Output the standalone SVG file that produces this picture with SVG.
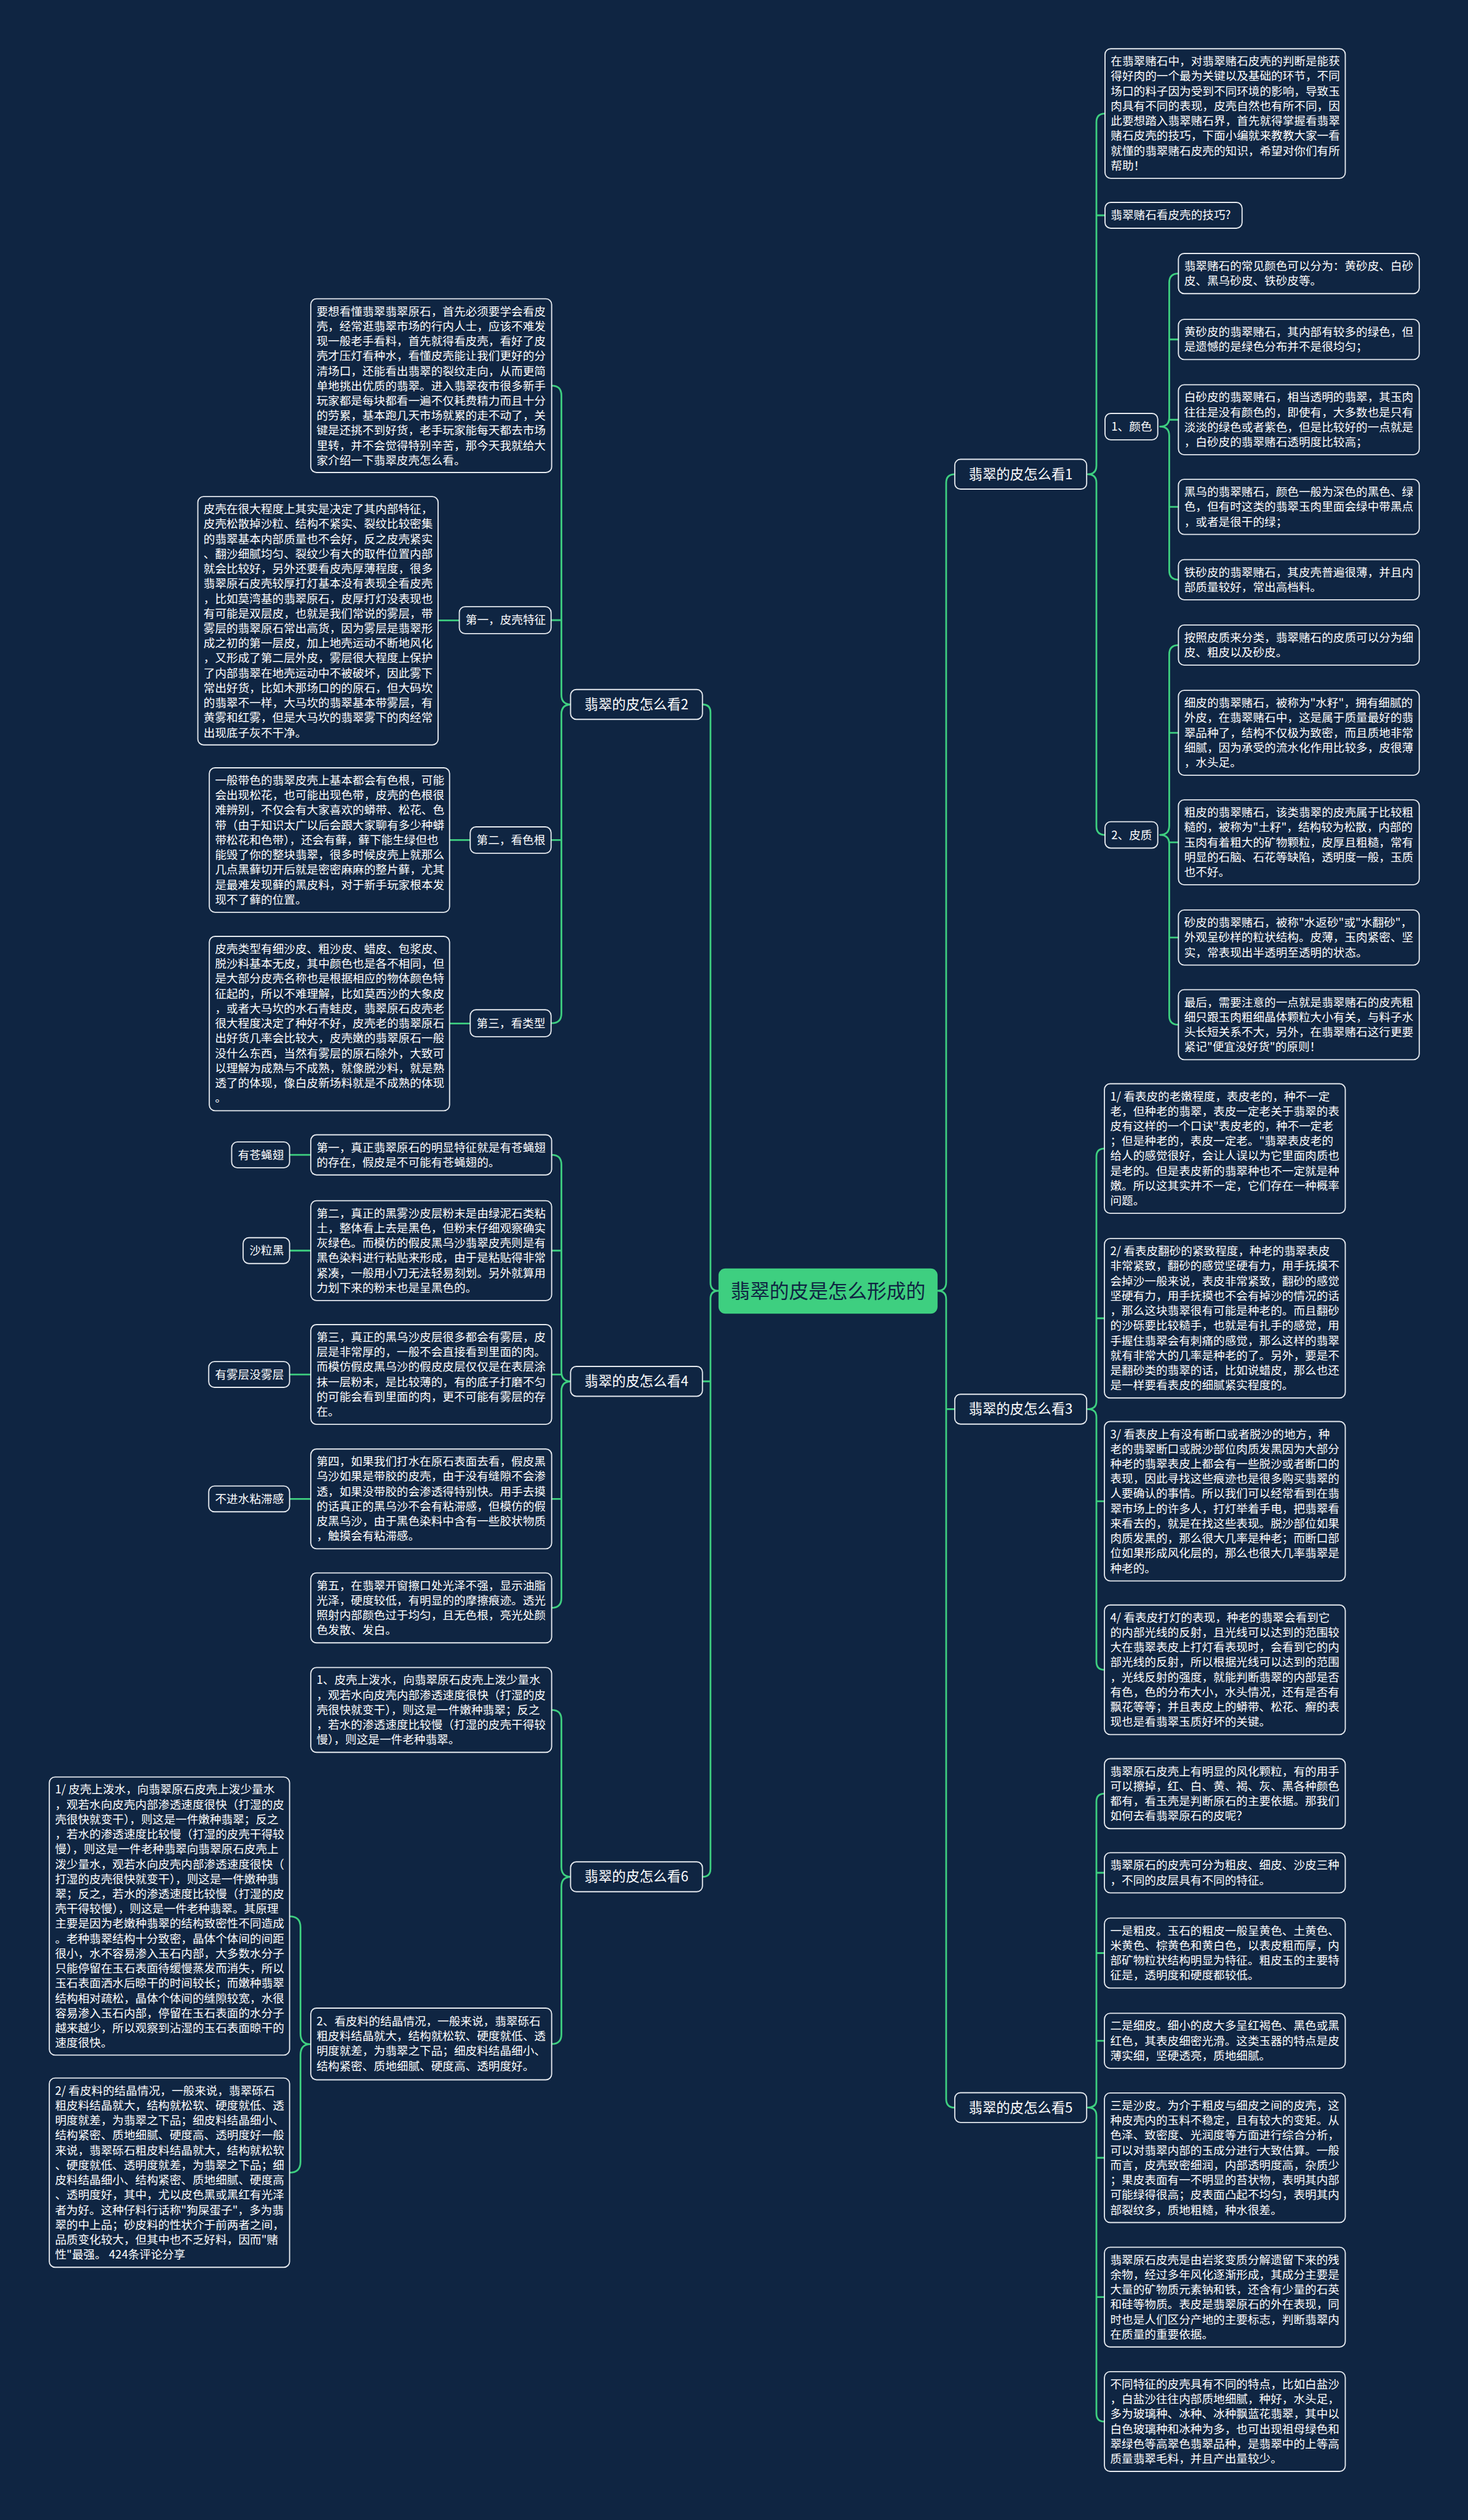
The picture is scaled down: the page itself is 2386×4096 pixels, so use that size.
<svg xmlns="http://www.w3.org/2000/svg" width="2386" height="4096" viewBox="0 0 2386 4096">
<style>
.bx{fill:#0f2542;stroke:#e6eaef;stroke-width:2}
.t{font-family:"Noto Sans CJK SC","Liberation Sans",sans-serif;font-size:20px;fill:#ffffff}
.l1{font-family:"Noto Sans CJK SC","Liberation Sans",sans-serif;font-size:24px;fill:#ffffff}
.ct{font-family:"Noto Sans CJK SC","Liberation Sans",sans-serif;font-size:34px;fill:#0f2542}
.c{fill:none;stroke:#3ecf80;stroke-width:3;stroke-linecap:round;stroke-linejoin:round}
</style>
<rect x="0" y="0" width="2386" height="4096" fill="#0f2542"/>
<g transform="scale(0.93203)">
<g id="connectors">
<path class="c" d="M1665,827 Q1650,827 1650,842 L1650,2236 Q1650,2251 1635,2251 Q1650,2251 1650,2266 L1650,3660.5 Q1650,3675.5 1665,3675.5 M1650,2457.5 L1665,2457.5"/>
<path class="c" d="M1225,1228.5 Q1239,1228.5 1239,1242.5 L1239,2237 Q1239,2251 1253,2251 Q1239,2251 1239,2265 L1239,3259 Q1239,3273 1225,3273 M1239,2409 L1225,2409"/>
<path class="c" d="M1927,198 Q1912,198 1912,213 L1912,812 Q1912,827 1897,827 Q1912,827 1912,842 L1912,1441 Q1912,1456 1927,1456 M1912,375.5 L1927,375.5"/>
<path class="c" d="M2055,477 Q2039,477 2039,493 L2039,728 Q2039,744 2023,744 Q2039,744 2039,760 L2039,995 Q2039,1011 2055,1011 M2039,592 L2055,592 M2039,732 L2055,732 M2039,884 L2055,884"/>
<path class="c" d="M2055,1125 Q2039,1125 2039,1141 L2039,1440 Q2039,1456 2023,1456 Q2039,1456 2039,1472 L2039,1771 Q2039,1787 2055,1787 M2039,1278 L2055,1278 M2039,1469 L2055,1469 M2039,1635 L2055,1635"/>
<path class="c" d="M1926,2003 Q1912,2003 1912,2017 L1912,2443.5 Q1912,2457.5 1897,2457.5 Q1912,2457.5 1912,2471.5 L1912,2898 Q1912,2912 1926,2912 M1912,2299 L1926,2299 M1912,2618 L1926,2618"/>
<path class="c" d="M1926,3128 Q1912,3128 1912,3142 L1912,3661.5 Q1912,3675.5 1897,3675.5 Q1912,3675.5 1912,3689.5 L1912,4209 Q1912,4223 1926,4223 M1912,3266 L1926,3266 M1912,3406 L1926,3406 M1912,3559 L1926,3559 M1912,3763 L1926,3763 M1912,4006 L1926,4006"/>
<path class="c" d="M962,672.5 Q979,672.5 979,689.5 L979,1211.5 Q979,1228.5 996,1228.5 Q979,1228.5 979,1245.5 L979,1767.5 Q979,1784.5 962,1784.5 M979,1081.5 L962,1081.5 M979,1465 L962,1465"/>
<path class="c" d="M764,1082 L801,1082 M784,1465 L820,1465 M784,1785 L820,1785"/>
<path class="c" d="M962,2014 Q979,2014 979,2031 L979,2392 Q979,2409 996,2409 Q979,2409 979,2426 L979,2787 Q979,2804 962,2804 M979,2181 L962,2181 M979,2397 L962,2397 M979,2614 L962,2614"/>
<path class="c" d="M505,2014 L542,2014 M505,2181 L542,2181 M505,2397 L542,2397 M505,2614 L542,2614"/>
<path class="c" d="M962,2982 Q979,2982 979,2999 L979,3256 Q979,3273 996,3273 Q979,3273 979,3290 L979,3547.5 Q979,3564.5 962,3564.5"/>
<path class="c" d="M505,3342 Q524,3342 524,3361 L524,3546 Q524,3565 541,3565 Q524,3565 524,3584 L524,3770 Q524,3789 505,3789"/>
</g>

<g id="center">
<rect x="1253" y="2212" width="382" height="79" rx="12" fill="#3ecf80"/>
<text class="ct" x="1444" y="2263.5" text-anchor="middle">翡翠的皮是怎么形成的</text>
</g>

<g id="k1"><rect class="bx" x="1665" y="801" width="230" height="52" rx="10"/><text class="l1" x="1780" y="835.5" text-anchor="middle">翡翠的皮怎么看1</text></g>
<g id="k3"><rect class="bx" x="1665" y="2431.5" width="230" height="52" rx="10"/><text class="l1" x="1780" y="2466" text-anchor="middle">翡翠的皮怎么看3</text></g>
<g id="k5"><rect class="bx" x="1665" y="3649.5" width="230" height="52" rx="10"/><text class="l1" x="1780" y="3684" text-anchor="middle">翡翠的皮怎么看5</text></g>
<g id="k2"><rect class="bx" x="995" y="1202.5" width="230" height="52" rx="10"/><text class="l1" x="1110" y="1237" text-anchor="middle">翡翠的皮怎么看2</text></g>
<g id="k4"><rect class="bx" x="995" y="2383" width="230" height="52" rx="10"/><text class="l1" x="1110" y="2417.5" text-anchor="middle">翡翠的皮怎么看4</text></g>
<g id="k6"><rect class="bx" x="995" y="3247" width="230" height="52" rx="10"/><text class="l1" x="1110" y="3281.5" text-anchor="middle">翡翠的皮怎么看6</text></g>

<g id="r-intro"><rect class="bx" x="1927" y="85" width="419" height="226" rx="10"/>
<text class="t"><tspan x="1937" y="114">在翡翠赌石中，对翡翠赌石皮壳的判断是能获</tspan><tspan x="1937" y="140">得好肉的一个最为关键以及基础的环节，不同</tspan><tspan x="1937" y="166">场口的料子因为受到不同环境的影响，导致玉</tspan><tspan x="1937" y="192">肉具有不同的表现，皮壳自然也有所不同，因</tspan><tspan x="1937" y="218">此要想踏入翡翠赌石界，首先就得掌握看翡翠</tspan><tspan x="1937" y="244">赌石皮壳的技巧，下面小编就来教教大家一看</tspan><tspan x="1937" y="270">就懂的翡翠赌石皮壳的知识，希望对你们有所</tspan><tspan x="1937" y="296">帮助！</tspan></text></g>
<g id="r-question"><rect class="bx" x="1927" y="353" width="239" height="45" rx="10"/><text class="t" x="1937" y="382.5">翡翠赌石看皮壳的技巧?</text></g>

<g id="r-color"><rect class="bx" x="1927" y="721" width="92" height="46" rx="10"/><text class="t" x="1938" y="751">1、颜色</text></g>
<g id="r-color-1"><rect class="bx" x="2055" y="442" width="420" height="70" rx="10"/>
<text class="t"><tspan x="2065" y="471">翡翠赌石的常见颜色可以分为：黄砂皮、白砂</tspan><tspan x="2065" y="497">皮、黑乌砂皮、铁砂皮等。</tspan></text></g>
<g id="r-color-2"><rect class="bx" x="2055" y="557" width="420" height="70" rx="10"/>
<text class="t"><tspan x="2065" y="586">黄砂皮的翡翠赌石，其内部有较多的绿色，但</tspan><tspan x="2065" y="612">是遗憾的是绿色分布并不是很均匀；</tspan></text></g>
<g id="r-color-3"><rect class="bx" x="2055" y="671" width="420" height="122" rx="10"/>
<text class="t"><tspan x="2065" y="700">白砂皮的翡翠赌石，相当透明的翡翠，其玉肉</tspan><tspan x="2065" y="726">往往是没有颜色的，即使有，大多数也是只有</tspan><tspan x="2065" y="752">淡淡的绿色或者紫色，但是比较好的一点就是</tspan><tspan x="2065" y="778">，白砂皮的翡翠赌石透明度比较高；</tspan></text></g>
<g id="r-color-4"><rect class="bx" x="2055" y="836" width="420" height="96" rx="10"/>
<text class="t"><tspan x="2065" y="865">黑乌的翡翠赌石，颜色一般为深色的黑色、绿</tspan><tspan x="2065" y="891">色，但有时这类的翡翠玉肉里面会绿中带黑点</tspan><tspan x="2065" y="917">，或者是很干的绿；</tspan></text></g>
<g id="r-color-5"><rect class="bx" x="2055" y="976" width="420" height="70" rx="10"/>
<text class="t"><tspan x="2065" y="1005">铁砂皮的翡翠赌石，其皮壳普遍很薄，并且内</tspan><tspan x="2065" y="1031">部质量较好，常出高档料。</tspan></text></g>

<g id="r-skin"><rect class="bx" x="1927" y="1433" width="92" height="46" rx="10"/><text class="t" x="1938" y="1463">2、皮质</text></g>
<g id="r-skin-1"><rect class="bx" x="2055" y="1090" width="420" height="70" rx="10"/>
<text class="t"><tspan x="2065" y="1119">按照皮质来分类，翡翠赌石的皮质可以分为细</tspan><tspan x="2065" y="1145">皮、粗皮以及砂皮。</tspan></text></g>
<g id="r-skin-2"><rect class="bx" x="2055" y="1204" width="420" height="148" rx="10"/>
<text class="t"><tspan x="2065" y="1233">细皮的翡翠赌石，被称为"水籽"，拥有细腻的</tspan><tspan x="2065" y="1259">外皮，在翡翠赌石中，这是属于质量最好的翡</tspan><tspan x="2065" y="1285">翠品种了，结构不仅极为致密，而且质地非常</tspan><tspan x="2065" y="1311">细腻，因为承受的流水化作用比较多，皮很薄</tspan><tspan x="2065" y="1337">，水头足。</tspan></text></g>
<g id="r-skin-3"><rect class="bx" x="2055" y="1395" width="420" height="148" rx="10"/>
<text class="t"><tspan x="2065" y="1424">粗皮的翡翠赌石，该类翡翠的皮壳属于比较粗</tspan><tspan x="2065" y="1450">糙的，被称为"土籽"，结构较为松散，内部的</tspan><tspan x="2065" y="1476">玉肉有着粗大的矿物颗粒，皮厚且粗糙，常有</tspan><tspan x="2065" y="1502">明显的石脑、石花等缺陷，透明度一般，玉质</tspan><tspan x="2065" y="1528">也不好。</tspan></text></g>
<g id="r-skin-4"><rect class="bx" x="2055" y="1587" width="420" height="96" rx="10"/>
<text class="t"><tspan x="2065" y="1616">砂皮的翡翠赌石，被称"水返砂"或"水翻砂"，</tspan><tspan x="2065" y="1642">外观呈砂样的粒状结构。皮薄，玉肉紧密、坚</tspan><tspan x="2065" y="1668">实，常表现出半透明至透明的状态。</tspan></text></g>
<g id="r-skin-5"><rect class="bx" x="2055" y="1726" width="420" height="122" rx="10"/>
<text class="t"><tspan x="2065" y="1755">最后，需要注意的一点就是翡翠赌石的皮壳粗</tspan><tspan x="2065" y="1781">细只跟玉肉粗细晶体颗粒大小有关，与料子水</tspan><tspan x="2065" y="1807">头长短关系不大，另外，在翡翠赌石这行更要</tspan><tspan x="2065" y="1833">紧记"便宜没好货"的原则！</tspan></text></g>

<g id="r3-1"><rect class="bx" x="1926" y="1890" width="420" height="226" rx="10"/>
<text class="t"><tspan x="1936" y="1919">1/ 看表皮的老嫩程度，表皮老的，种不一定</tspan><tspan x="1936" y="1945">老，但种老的翡翠，表皮一定老关于翡翠的表</tspan><tspan x="1936" y="1971">皮有这样的一个口诀"表皮老的，种不一定老</tspan><tspan x="1936" y="1997">；但是种老的，表皮一定老。"翡翠表皮老的</tspan><tspan x="1936" y="2023">给人的感觉很好，会让人误以为它里面肉质也</tspan><tspan x="1936" y="2049">是老的。但是表皮新的翡翠种也不一定就是种</tspan><tspan x="1936" y="2075">嫩。所以这其实并不一定，它们存在一种概率</tspan><tspan x="1936" y="2101">问题。</tspan></text></g>
<g id="r3-2"><rect class="bx" x="1926" y="2160" width="420" height="278" rx="10"/>
<text class="t"><tspan x="1936" y="2189">2/ 看表皮翻砂的紧致程度，种老的翡翠表皮</tspan><tspan x="1936" y="2215">非常紧致，翻砂的感觉坚硬有力，用手抚摸不</tspan><tspan x="1936" y="2241">会掉沙一般来说，表皮非常紧致，翻砂的感觉</tspan><tspan x="1936" y="2267">坚硬有力，用手抚摸也不会有掉沙的情况的话</tspan><tspan x="1936" y="2293">，那么这块翡翠很有可能是种老的。而且翻砂</tspan><tspan x="1936" y="2319">的沙砾要比较糙手，也就是有扎手的感觉，用</tspan><tspan x="1936" y="2345">手握住翡翠会有刺痛的感觉，那么这样的翡翠</tspan><tspan x="1936" y="2371">就有非常大的几率是种老的了。另外，要是不</tspan><tspan x="1936" y="2397">是翻砂类的翡翠的话，比如说蜡皮，那么也还</tspan><tspan x="1936" y="2423">是一样要看表皮的细腻紧实程度的。</tspan></text></g>
<g id="r3-3"><rect class="bx" x="1926" y="2479" width="420" height="278" rx="10"/>
<text class="t"><tspan x="1936" y="2508">3/ 看表皮上有没有断口或者脱沙的地方，种</tspan><tspan x="1936" y="2534">老的翡翠断口或脱沙部位肉质发黑因为大部分</tspan><tspan x="1936" y="2560">种老的翡翠表皮上都会有一些脱沙或者断口的</tspan><tspan x="1936" y="2586">表现，因此寻找这些痕迹也是很多购买翡翠的</tspan><tspan x="1936" y="2612">人要确认的事情。所以我们可以经常看到在翡</tspan><tspan x="1936" y="2638">翠市场上的许多人，打灯举着手电，把翡翠看</tspan><tspan x="1936" y="2664">来看去的，就是在找这些表现。脱沙部位如果</tspan><tspan x="1936" y="2690">肉质发黑的，那么很大几率是种老；而断口部</tspan><tspan x="1936" y="2716">位如果形成风化层的，那么也很大几率翡翠是</tspan><tspan x="1936" y="2742">种老的。</tspan></text></g>
<g id="r3-4"><rect class="bx" x="1926" y="2799" width="420" height="226" rx="10"/>
<text class="t"><tspan x="1936" y="2828">4/ 看表皮打灯的表现，种老的翡翠会看到它</tspan><tspan x="1936" y="2854">的内部光线的反射，且光线可以达到的范围较</tspan><tspan x="1936" y="2880">大在翡翠表皮上打灯看表现时，会看到它的内</tspan><tspan x="1936" y="2906">部光线的反射，所以根据光线可以达到的范围</tspan><tspan x="1936" y="2932">，光线反射的强度，就能判断翡翠的内部是否</tspan><tspan x="1936" y="2958">有色，色的分布大小，水头情况，还有是否有</tspan><tspan x="1936" y="2984">飘花等等；并且表皮上的蟒带、松花、癣的表</tspan><tspan x="1936" y="3010">现也是看翡翠玉质好坏的关键。</tspan></text></g>

<g id="r5-1"><rect class="bx" x="1926" y="3067" width="420" height="122" rx="10"/>
<text class="t"><tspan x="1936" y="3096">翡翠原石皮壳上有明显的风化颗粒，有的用手</tspan><tspan x="1936" y="3122">可以擦掉，红、白、黄、褐、灰、黑各种颜色</tspan><tspan x="1936" y="3148">都有，看玉壳是判断原石的主要依据。那我们</tspan><tspan x="1936" y="3174">如何去看翡翠原石的皮呢？</tspan></text></g>
<g id="r5-2"><rect class="bx" x="1926" y="3231" width="420" height="70" rx="10"/>
<text class="t"><tspan x="1936" y="3260">翡翠原石的皮壳可分为粗皮、细皮、沙皮三种</tspan><tspan x="1936" y="3286">，不同的皮层具有不同的特征。</tspan></text></g>
<g id="r5-3"><rect class="bx" x="1926" y="3345" width="420" height="122" rx="10"/>
<text class="t"><tspan x="1936" y="3374">一是粗皮。玉石的粗皮一般呈黄色、土黄色、</tspan><tspan x="1936" y="3400">米黄色、棕黄色和黄白色，以表皮粗而厚，内</tspan><tspan x="1936" y="3426">部矿物粒状结构明显为特征。粗皮玉的主要特</tspan><tspan x="1936" y="3452">征是，透明度和硬度都较低。</tspan></text></g>
<g id="r5-4"><rect class="bx" x="1926" y="3511" width="420" height="96" rx="10"/>
<text class="t"><tspan x="1936" y="3540">二是细皮。细小的皮大多呈红褐色、黑色或黑</tspan><tspan x="1936" y="3566">红色，其表皮细密光滑。这类玉器的特点是皮</tspan><tspan x="1936" y="3592">薄实细，坚硬透亮，质地细腻。</tspan></text></g>
<g id="r5-5"><rect class="bx" x="1926" y="3650" width="420" height="226" rx="10"/>
<text class="t"><tspan x="1936" y="3679">三是沙皮。为介于粗皮与细皮之间的皮壳，这</tspan><tspan x="1936" y="3705">种皮壳内的玉料不稳定，且有较大的变矩。从</tspan><tspan x="1936" y="3731">色泽、致密度、光润度等方面进行综合分析，</tspan><tspan x="1936" y="3757">可以对翡翠内部的玉成分进行大致估算。一般</tspan><tspan x="1936" y="3783">而言，皮壳致密细润，内部透明度高，杂质少</tspan><tspan x="1936" y="3809">；果皮表面有一不明显的苔状物，表明其内部</tspan><tspan x="1936" y="3835">可能绿得很高；皮表面凸起不均匀，表明其内</tspan><tspan x="1936" y="3861">部裂纹多，质地粗糙，种水很差。</tspan></text></g>
<g id="r5-6"><rect class="bx" x="1926" y="3919" width="420" height="174" rx="10"/>
<text class="t"><tspan x="1936" y="3948">翡翠原石皮壳是由岩浆变质分解遗留下来的残</tspan><tspan x="1936" y="3974">余物，经过多年风化逐渐形成，其成分主要是</tspan><tspan x="1936" y="4000">大量的矿物质元素钠和铁，还含有少量的石英</tspan><tspan x="1936" y="4026">和硅等物质。表皮是翡翠原石的外在表现，同</tspan><tspan x="1936" y="4052">时也是人们区分产地的主要标志，判断翡翠内</tspan><tspan x="1936" y="4078">在质量的重要依据。</tspan></text></g>
<g id="r5-7"><rect class="bx" x="1926" y="4136" width="420" height="174" rx="10"/>
<text class="t"><tspan x="1936" y="4165">不同特征的皮壳具有不同的特点，比如白盐沙</tspan><tspan x="1936" y="4191">，白盐沙往往内部质地细腻，种好，水头足，</tspan><tspan x="1936" y="4217">多为玻璃种、冰种、冰种飘蓝花翡翠，其中以</tspan><tspan x="1936" y="4243">白色玻璃种和冰种为多，也可出现祖母绿色和</tspan><tspan x="1936" y="4269">翠绿色等高翠色翡翠品种，是翡翠中的上等高</tspan><tspan x="1936" y="4295">质量翡翠毛料，并且产出量较少。</tspan></text></g>

<g id="l2-intro"><rect class="bx" x="542" y="521" width="420" height="303" rx="10"/>
<text class="t"><tspan x="552" y="550">要想看懂翡翠翡翠原石，首先必须要学会看皮</tspan><tspan x="552" y="576">壳，经常逛翡翠市场的行内人士，应该不难发</tspan><tspan x="552" y="602">现一般老手看料，首先就得看皮壳，看好了皮</tspan><tspan x="552" y="628">壳才压灯看种水，看懂皮壳能让我们更好的分</tspan><tspan x="552" y="654">清场口，还能看出翡翠的裂纹走向，从而更简</tspan><tspan x="552" y="680">单地挑出优质的翡翠。进入翡翠夜市很多新手</tspan><tspan x="552" y="706">玩家都是每块都看一遍不仅耗费精力而且十分</tspan><tspan x="552" y="732">的劳累，基本跑几天市场就累的走不动了，关</tspan><tspan x="552" y="758">键是还挑不到好货，老手玩家能每天都去市场</tspan><tspan x="552" y="784">里转，并不会觉得特别辛苦，那今天我就给大</tspan><tspan x="552" y="810">家介绍一下翡翠皮壳怎么看。</tspan></text></g>

<g id="l2-first"><rect class="bx" x="801" y="1058" width="160" height="47" rx="10"/><text class="t" x="812" y="1088.5">第一，皮壳特征</text></g>
<g id="l2-first-box"><rect class="bx" x="345" y="866" width="419" height="433" rx="10"/>
<text class="t"><tspan x="355" y="895">皮壳在很大程度上其实是决定了其内部特征，</tspan><tspan x="355" y="921">皮壳松散掉沙粒、结构不紧实、裂纹比较密集</tspan><tspan x="355" y="947">的翡翠基本内部质量也不会好，反之皮壳紧实</tspan><tspan x="355" y="973">、翻沙细腻均匀、裂纹少有大的取件位置内部</tspan><tspan x="355" y="999">就会比较好，另外还要看皮壳厚薄程度，很多</tspan><tspan x="355" y="1025">翡翠原石皮壳较厚打灯基本没有表现全看皮壳</tspan><tspan x="355" y="1051">，比如莫湾基的翡翠原石，皮厚打灯没表现也</tspan><tspan x="355" y="1077">有可能是双层皮，也就是我们常说的雾层，带</tspan><tspan x="355" y="1103">雾层的翡翠原石常出高货，因为雾层是翡翠形</tspan><tspan x="355" y="1129">成之初的第一层皮，加上地壳运动不断地风化</tspan><tspan x="355" y="1155">，又形成了第二层外皮，雾层很大程度上保护</tspan><tspan x="355" y="1181">了内部翡翠在地壳运动中不被破坏，因此雾下</tspan><tspan x="355" y="1207">常出好货，比如木那场口的的原石，但大码坎</tspan><tspan x="355" y="1233">的翡翠不一样，大马坎的翡翠基本带雾层，有</tspan><tspan x="355" y="1259">黄雾和红雾，但是大马坎的翡翠雾下的肉经常</tspan><tspan x="355" y="1285">出现底子灰不干净。</tspan></text></g>

<g id="l2-second"><rect class="bx" x="820" y="1442" width="141" height="46" rx="10"/><text class="t" x="831" y="1472">第二，看色根</text></g>
<g id="l2-second-box"><rect class="bx" x="365" y="1339" width="419" height="252" rx="10"/>
<text class="t"><tspan x="375" y="1368">一般带色的翡翠皮壳上基本都会有色根，可能</tspan><tspan x="375" y="1394">会出现松花，也可能出现色带，皮壳的色根很</tspan><tspan x="375" y="1420">难辨别，不仅会有大家喜欢的蟒带、松花、色</tspan><tspan x="375" y="1446">带（由于知识太广以后会跟大家聊有多少种蟒</tspan><tspan x="375" y="1472">带松花和色带），还会有藓，藓下能生绿但也</tspan><tspan x="375" y="1498">能毁了你的整块翡翠，很多时候皮壳上就那么</tspan><tspan x="375" y="1524">几点黑藓切开后就是密密麻麻的整片藓，尤其</tspan><tspan x="375" y="1550">是最难发现藓的黑皮料，对于新手玩家根本发</tspan><tspan x="375" y="1576">现不了藓的位置。</tspan></text></g>

<g id="l2-third"><rect class="bx" x="820" y="1761" width="141" height="47" rx="10"/><text class="t" x="831" y="1791.5">第三，看类型</text></g>
<g id="l2-third-box"><rect class="bx" x="365" y="1633" width="419" height="304" rx="10"/>
<text class="t"><tspan x="375" y="1662">皮壳类型有细沙皮、粗沙皮、蜡皮、包浆皮、</tspan><tspan x="375" y="1688">脱沙料基本无皮，其中颜色也是各不相同，但</tspan><tspan x="375" y="1714">是大部分皮壳名称也是根据相应的物体颜色特</tspan><tspan x="375" y="1740">征起的，所以不难理解，比如莫西沙的大象皮</tspan><tspan x="375" y="1766">，或者大马坎的水石青蛙皮，翡翠原石皮壳老</tspan><tspan x="375" y="1792">很大程度决定了种好不好，皮壳老的翡翠原石</tspan><tspan x="375" y="1818">出好货几率会比较大，皮壳嫩的翡翠原石一般</tspan><tspan x="375" y="1844">没什么东西，当然有雾层的原石除外，大致可</tspan><tspan x="375" y="1870">以理解为成熟与不成熟，就像脱沙料，就是熟</tspan><tspan x="375" y="1896">透了的体现，像白皮新场料就是不成熟的体现</tspan><tspan x="375" y="1922">。</tspan></text></g>

<g id="l4-1"><rect class="bx" x="542" y="1979" width="420" height="70" rx="10"/>
<text class="t"><tspan x="552" y="2008">第一，真正翡翠原石的明显特征就是有苍蝇翅</tspan><tspan x="552" y="2034">的存在，假皮是不可能有苍蝇翅的。</tspan></text></g>
<g id="l4-1-tag"><rect class="bx" x="404" y="1991.5" width="101" height="45" rx="10"/><text class="t" x="415" y="2021">有苍蝇翅</text></g>
<g id="l4-2"><rect class="bx" x="542" y="2094" width="420" height="174" rx="10"/>
<text class="t"><tspan x="552" y="2123">第二，真正的黑雾沙皮层粉末是由绿泥石类粘</tspan><tspan x="552" y="2149">土，整体看上去是黑色，但粉末仔细观察确实</tspan><tspan x="552" y="2175">灰绿色。而模仿的假皮黑乌沙翡翠皮壳则是有</tspan><tspan x="552" y="2201">黑色染料进行粘贴来形成，由于是粘贴得非常</tspan><tspan x="552" y="2227">紧凑，一般用小刀无法轻易刻划。另外就算用</tspan><tspan x="552" y="2253">力划下来的粉末也是呈黑色的。</tspan></text></g>
<g id="l4-2-tag"><rect class="bx" x="424" y="2158.5" width="81" height="45" rx="10"/><text class="t" x="435" y="2188">沙粒黑</text></g>
<g id="l4-3"><rect class="bx" x="542" y="2310" width="420" height="174" rx="10"/>
<text class="t"><tspan x="552" y="2339">第三，真正的黑乌沙皮层很多都会有雾层，皮</tspan><tspan x="552" y="2365">层是非常厚的，一般不会直接看到里面的肉。</tspan><tspan x="552" y="2391">而模仿假皮黑乌沙的假皮皮层仅仅是在表层涂</tspan><tspan x="552" y="2417">抹一层粉末，是比较薄的，有的底子打磨不匀</tspan><tspan x="552" y="2443">的可能会看到里面的肉，更不可能有雾层的存</tspan><tspan x="552" y="2469">在。</tspan></text></g>
<g id="l4-3-tag"><rect class="bx" x="364" y="2374.5" width="141" height="45" rx="10"/><text class="t" x="375" y="2404">有雾层没雾层</text></g>
<g id="l4-4"><rect class="bx" x="542" y="2527" width="420" height="174" rx="10"/>
<text class="t"><tspan x="552" y="2556">第四，如果我们打水在原石表面去看，假皮黑</tspan><tspan x="552" y="2582">乌沙如果是带胶的皮壳，由于没有缝隙不会渗</tspan><tspan x="552" y="2608">透，如果没带胶的会渗透得特别快。用手去摸</tspan><tspan x="552" y="2634">的话真正的黑乌沙不会有粘滞感，但模仿的假</tspan><tspan x="552" y="2660">皮黑乌沙，由于黑色染料中含有一些胶状物质</tspan><tspan x="552" y="2686">，触摸会有粘滞感。</tspan></text></g>
<g id="l4-4-tag"><rect class="bx" x="364" y="2591.5" width="141" height="45" rx="10"/><text class="t" x="375" y="2621">不进水粘滞感</text></g>
<g id="l4-5"><rect class="bx" x="542" y="2743" width="420" height="122" rx="10"/>
<text class="t"><tspan x="552" y="2772">第五，在翡翠开窗擦口处光泽不强，显示油脂</tspan><tspan x="552" y="2798">光泽，硬度较低，有明显的的摩擦痕迹。透光</tspan><tspan x="552" y="2824">照射内部颜色过于均匀，且无色根，亮光处颜</tspan><tspan x="552" y="2850">色发散、发白。</tspan></text></g>

<g id="l6-1"><rect class="bx" x="542" y="2908" width="420" height="148" rx="10"/>
<text class="t"><tspan x="552" y="2937">1、皮壳上泼水，向翡翠原石皮壳上泼少量水</tspan><tspan x="552" y="2963">，观若水向皮壳内部渗透速度很快（打湿的皮</tspan><tspan x="552" y="2989">壳很快就变干），则这是一件嫩种翡翠；反之</tspan><tspan x="552" y="3015">，若水的渗透速度比较慢（打湿的皮壳干得较</tspan><tspan x="552" y="3041">慢），则这是一件老种翡翠。</tspan></text></g>
<g id="l6-2"><rect class="bx" x="542" y="3502" width="420" height="125" rx="10"/>
<text class="t"><tspan x="552" y="3532">2、看皮料的结晶情况，一般来说，翡翠砾石</tspan><tspan x="552" y="3558">粗皮料结晶就大，结构就松软、硬度就低、透</tspan><tspan x="552" y="3584">明度就差，为翡翠之下品；细皮料结晶细小、</tspan><tspan x="552" y="3610">结构紧密、质地细腻、硬度高、透明度好。</tspan></text></g>
<g id="l6-2-a"><rect class="bx" x="86" y="3099" width="419" height="485" rx="10"/>
<text class="t"><tspan x="96" y="3128">1/ 皮壳上泼水，向翡翠原石皮壳上泼少量水</tspan><tspan x="96" y="3154">，观若水向皮壳内部渗透速度很快（打湿的皮</tspan><tspan x="96" y="3180">壳很快就变干），则这是一件嫩种翡翠；反之</tspan><tspan x="96" y="3206">，若水的渗透速度比较慢（打湿的皮壳干得较</tspan><tspan x="96" y="3232">慢），则这是一件老种翡翠向翡翠原石皮壳上</tspan><tspan x="96" y="3258">泼少量水，观若水向皮壳内部渗透速度很快（</tspan><tspan x="96" y="3284">打湿的皮壳很快就变干），则这是一件嫩种翡</tspan><tspan x="96" y="3310">翠；反之，若水的渗透速度比较慢（打湿的皮</tspan><tspan x="96" y="3336">壳干得较慢），则这是一件老种翡翠。其原理</tspan><tspan x="96" y="3362">主要是因为老嫩种翡翠的结构致密性不同造成</tspan><tspan x="96" y="3388">。老种翡翠结构十分致密，晶体个体间的间距</tspan><tspan x="96" y="3414">很小，水不容易渗入玉石内部，大多数水分子</tspan><tspan x="96" y="3440">只能停留在玉石表面待缓慢蒸发而消失，所以</tspan><tspan x="96" y="3466">玉石表面洒水后晾干的时间较长；而嫩种翡翠</tspan><tspan x="96" y="3492">结构相对疏松，晶体个体间的缝隙较宽，水很</tspan><tspan x="96" y="3518">容易渗入玉石内部，停留在玉石表面的水分子</tspan><tspan x="96" y="3544">越来越少，所以观察到沾湿的玉石表面晾干的</tspan><tspan x="96" y="3570">速度很快。</tspan></text></g>
<g id="l6-2-b"><rect class="bx" x="86" y="3624" width="419" height="330" rx="10"/>
<text class="t"><tspan x="96" y="3653">2/ 看皮料的结晶情况，一般来说，翡翠砾石</tspan><tspan x="96" y="3679">粗皮料结晶就大，结构就松软、硬度就低、透</tspan><tspan x="96" y="3705">明度就差，为翡翠之下品；细皮料结晶细小、</tspan><tspan x="96" y="3731">结构紧密、质地细腻、硬度高、透明度好一般</tspan><tspan x="96" y="3757">来说，翡翠砾石粗皮料结晶就大，结构就松软</tspan><tspan x="96" y="3783">、硬度就低、透明度就差，为翡翠之下品；细</tspan><tspan x="96" y="3809">皮料结晶细小、结构紧密、质地细腻、硬度高</tspan><tspan x="96" y="3835">、透明度好，其中，尤以皮色黑或黑红有光泽</tspan><tspan x="96" y="3861">者为好。这种仔料行话称"狗屎蛋子"，多为翡</tspan><tspan x="96" y="3887">翠的中上品；砂皮料的性状介于前两者之间，</tspan><tspan x="96" y="3913">品质变化较大，但其中也不乏好料，因而"赌</tspan><tspan x="96" y="3939">性"最强。  424条评论分享</tspan></text></g>
</g>
</svg>
